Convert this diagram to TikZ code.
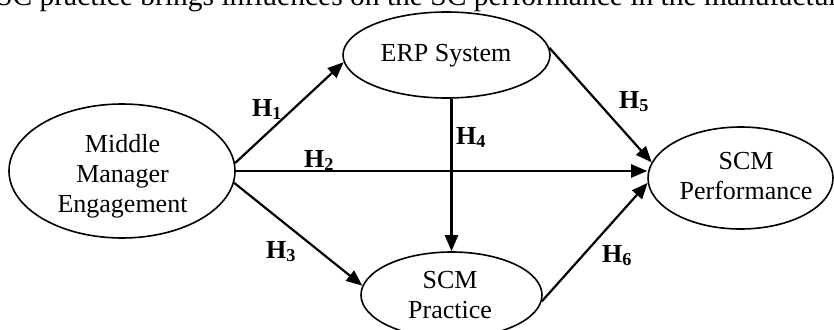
\documentclass[tikz,border=0pt]{standalone}
\usepackage{fontspec}
\setmainfont{Liberation Serif}
\usetikzlibrary{arrows.meta,shapes.geometric}
\tikzset{
  ell/.style={draw, ellipse, line width=1.6pt, inner sep=0pt},
  txt/.style={align=center, inner sep=0pt, font=\fontsize{26}{30}\selectfont},
  hyp/.style={anchor=base west, inner sep=0pt, font=\fontsize{26}{30}\selectfont\bfseries},
  arr/.style={line width=2.2pt, -{Triangle[length=16pt,width=13pt]}},
}
\begin{document}
\begin{tikzpicture}[x=1pt,y=-1pt]
\useasboundingbox (0,0) rectangle (834,329);
\clip (0,0) rectangle (834,329);
% cut-off line of running text above the figure
\node[anchor=base west, inner sep=0pt, font=\fontsize{29.5}{36}\selectfont] (toptext) at (-4,6)
  {SC practice brings influences on the SC performance in the manufactur};
% ellipses
\node[ell, minimum width=226pt, minimum height=134pt] (mme) at (122,171) {};
\node[ell, minimum width=207pt, minimum height=86pt] (erp) at (446.5,55) {};
\node[ell, minimum width=181pt, minimum height=86pt] (prac) at (451.5,295) {};
\node[ell, minimum width=185pt, minimum height=102pt] (perf) at (740.5,178) {};
% texts
\node[txt] (mmet) at (122.5,176) {Middle\\Manager\\Engagement};
\node[txt] (erpt) at (446,56) {ERP System};
\node[txt] (pract) at (450,295) {SCM\\Practice};
\node[txt] (perft) at (746,176) {SCM\\Performance};
% connectors
\draw[arr] (mme.4) -- (erp.184);
\draw[arr] (mme.east) -- (mme.east -| perf.west);
\draw[arr] (mme.-6) -- (prac.174);
\draw[arr] (erp.south -| prac.north) -- (prac.north);
\draw[arr] (erp.4) -- (perf.170);
\draw[arr] (prac.356) -- (perf.183);
% hypothesis labels
\node[hyp] (h1) at (252,116) {H\textsubscript{1}};
\node[hyp] (h2) at (304,167) {H\textsubscript{2}};
\node[hyp] (h3) at (266,258) {H\textsubscript{3}};
\node[hyp] (h4) at (456,144) {H\textsubscript{4}};
\node[hyp] (h5) at (619,108) {H\textsubscript{5}};
\node[hyp] (h6) at (602,262) {H\textsubscript{6}};
\end{tikzpicture}
\end{document}
